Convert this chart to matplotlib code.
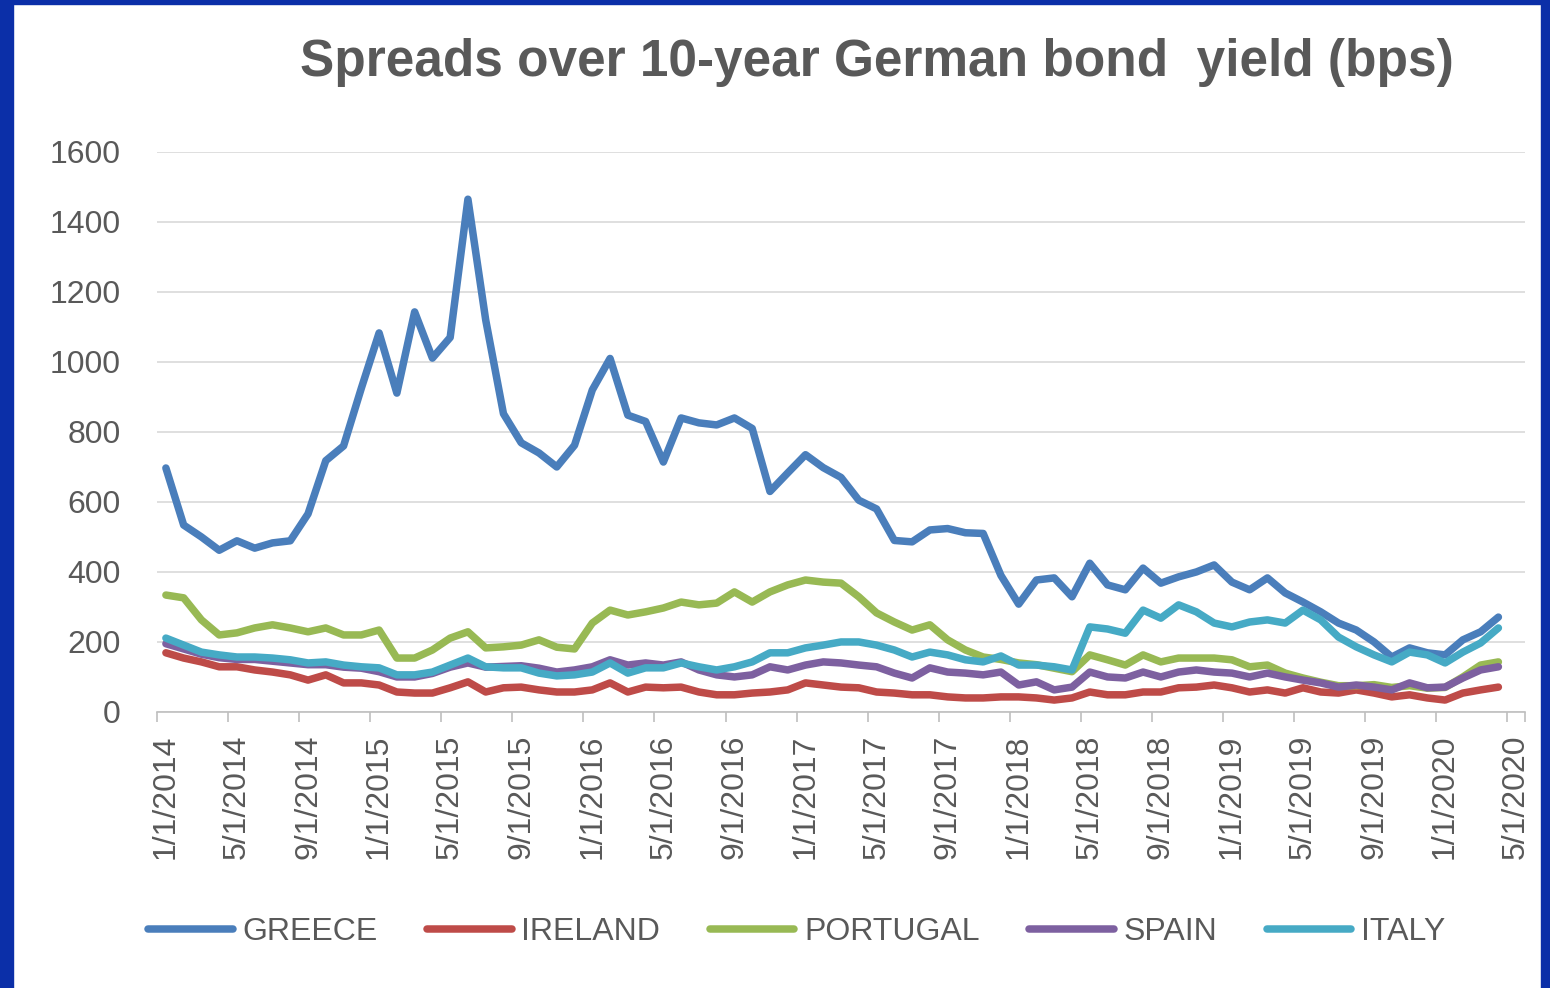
import numpy as np
import matplotlib
matplotlib.use("Agg")
import matplotlib.pyplot as plt
from matplotlib.patches import Rectangle
from matplotlib.ticker import FixedLocator

# monthly spreads, Jan 2014 .. Apr 2020 (bps)
greece = [697, 534, 500, 462, 489, 468, 483, 489, 566, 718, 760, 925, 1083, 911, 1143, 1011,
          1070, 1465, 1120, 852, 769, 740, 700, 762, 920, 1010, 848, 830, 714, 840, 826, 820,
          840, 810, 630, 683, 735, 698, 670, 605, 580, 490, 486, 520, 524, 512, 510, 390,
          308, 377, 383, 329, 425, 363, 349, 411, 368, 386, 400, 420, 371, 349, 383, 340,
          314, 286, 254, 234, 200, 157, 183, 169, 163, 206, 229, 271]
ireland = [169, 154, 143, 129, 129, 120, 114, 106, 91, 106, 83, 83, 77, 57, 54, 54,
           69, 86, 57, 69, 71, 63, 57, 57, 63, 83, 57, 71, 69, 71, 57, 49,
           49, 54, 57, 63, 83, 77, 71, 69, 57, 54, 49, 49, 43, 40, 40, 43,
           43, 40, 34, 40, 57, 49, 49, 57, 57, 69, 71, 77, 69, 57, 63, 54,
           69, 57, 54, 63, 54, 43, 49, 40, 34, 54, 63, 71]
portugal = [334, 326, 263, 220, 226, 240, 249, 240, 229, 240, 220, 220, 234, 154, 154, 177,
            211, 229, 183, 186, 191, 206, 185, 180, 254, 291, 277, 286, 297, 314, 306, 311,
            343, 314, 343, 363, 377, 371, 368, 329, 283, 257, 234, 249, 206, 177, 157, 150,
            140, 135, 125, 115, 163, 149, 134, 163, 143, 154, 154, 154, 149, 129, 134, 111,
            97, 85, 75, 75, 78, 70, 75, 68, 70, 100, 134, 143]
spain = [195, 180, 165, 155, 150, 150, 145, 140, 135, 135, 128, 125, 115, 100, 100, 110,
         128, 140, 128, 130, 132, 125, 114, 120, 129, 149, 134, 140, 134, 143, 120, 106,
         100, 106, 129, 120, 134, 143, 140, 134, 129, 111, 97, 126, 114, 111, 106, 114,
         77, 86, 63, 71, 114, 100, 97, 114, 100, 114, 120, 114, 111, 100, 111, 100,
         91, 83, 71, 77, 71, 63, 83, 69, 71, 97, 120, 129]
italy = [211, 191, 171, 163, 157, 157, 154, 149, 140, 143, 134, 129, 126, 106, 106, 114,
         134, 154, 129, 126, 126, 111, 103, 106, 114, 140, 111, 126, 126, 140, 129, 120,
         129, 143, 169, 169, 183, 191, 200, 200, 191, 177, 157, 171, 163, 149, 143, 160,
         134, 134, 129, 120, 243, 237, 225, 291, 268, 306, 286, 254, 243, 257, 263, 254,
         291, 263, 214, 186, 163, 143, 171, 163, 140, 171, 197, 240]

series_names = ["GREECE", "IRELAND", "PORTUGAL", "SPAIN", "ITALY"]
series_colors = ["#4A7EBB", "#BE4B48", "#98B954", "#7D60A0", "#46AAC5"]

date_labels = ["1/1/2014", "5/1/2014", "9/1/2014", "1/1/2015", "5/1/2015", "9/1/2015",
               "1/1/2016", "5/1/2016", "9/1/2016", "1/1/2017", "5/1/2017", "9/1/2017",
               "1/1/2018", "5/1/2018", "9/1/2018", "1/1/2019", "5/1/2019", "9/1/2019",
               "1/1/2020", "5/1/2020"]
y_ticks = [0, 200, 400, 600, 800, 1000, 1200, 1400, 1600]

txt_color = "#595959"
plt.rcParams["font.family"] = ["Liberation Sans", "DejaVu Sans"]

fig = plt.figure(figsize=(15.5, 9.88), dpi=100)
fig.patch.set_facecolor("white")

# blue slide border
border = "#0B2FA8"
fig.patches.append(Rectangle((0, 0), 0.0085, 1, transform=fig.transFigure, color=border, zorder=0))
fig.patches.append(Rectangle((0, 0.996), 1, 0.004, transform=fig.transFigure, color=border, zorder=0))
fig.patches.append(Rectangle((0.9945, 0), 0.0055, 1, transform=fig.transFigure, color=border, zorder=0))

ax = fig.add_axes([0.1013, 0.2794, 0.8826, 0.5668])
x = np.arange(len(greece))
for vals, name, col in zip([greece, ireland, portugal, spain, italy], series_names, series_colors):
    ax.plot(x, vals, color=col, linewidth=5.4, label=name, solid_capstyle="round",
            solid_joinstyle="round")

ax.set_xlim(-0.5, 76.5)
ax.set_ylim(0, 1600)
ax.set_yticks(y_ticks)
ax.set_yticklabels([str(v) for v in y_ticks])
ax.grid(axis="y", color="#D9D9D9", linewidth=1.2)
ax.set_axisbelow(True)
for s in ["top", "right", "left"]:
    ax.spines[s].set_visible(False)
ax.spines["bottom"].set_color("#BFBFBF")
ax.spines["bottom"].set_linewidth(1.2)

label_pos = np.arange(0, 4 * len(date_labels), 4)
ax.set_xticks(label_pos)
ax.set_xticklabels(date_labels, rotation=90)
ax.xaxis.set_minor_locator(FixedLocator(list(label_pos - 0.5) + [76.5]))
ax.tick_params(axis="x", which="major", length=0, pad=16, labelsize=23, labelcolor=txt_color)
ax.tick_params(axis="x", which="minor", length=7, width=1.2, color="#BFBFBF")
ax.tick_params(axis="y", length=0, pad=26, labelsize=23, labelcolor=txt_color)

fig.text(0.566, 0.937, "Spreads over 10-year German bond  yield (bps)", ha="center", va="center",
         fontsize=37, fontweight="bold", color=txt_color)

fig.legend(loc="center", bbox_to_anchor=(0.514, 0.0567), ncol=5, frameon=False,
           fontsize=23, handlelength=2.65, handletextpad=0.3, columnspacing=1.55,
           labelcolor=txt_color)

fig.savefig("out.png", dpi=100, facecolor=fig.get_facecolor())
